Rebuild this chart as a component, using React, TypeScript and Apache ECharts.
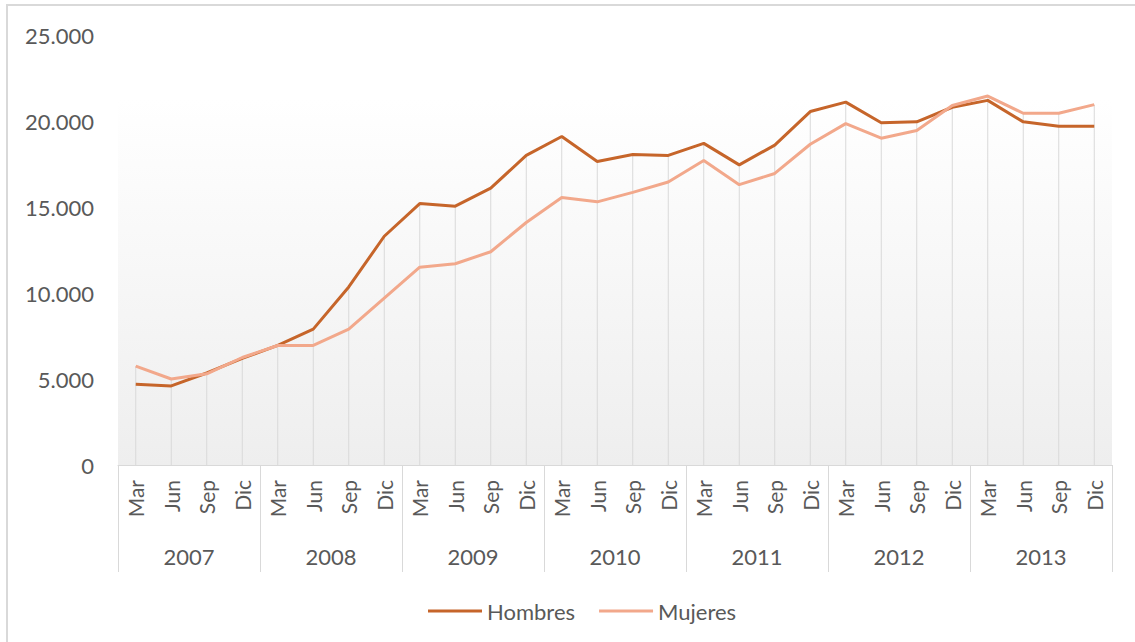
import React, { useEffect, useRef } from "react";
import * as echarts from "echarts";

const quarters = ["Mar", "Jun", "Sep", "Dic"];
const years = ["2007", "2008", "2009", "2010", "2011", "2012", "2013"];
const categories: string[] = years.flatMap((y) => quarters.map((q) => q));

const hombres = [
  4700, 4600, 5350, 6200, 6950, 7900, 10350, 13300,
  15200, 15050, 16100, 18000, 19100, 17650, 18050, 18000,
  18700, 17450, 18600, 20550, 21100, 19900, 19950, 20800,
  21200, 19950, 19700, 19700,
];
const mujeres = [
  5750, 5000, 5300, 6250, 6950, 6950, 7900, 9700,
  11500, 11700, 12400, 14100, 15550, 15300, 15850, 16450,
  17700, 16300, 16950, 18650, 19850, 19000, 19450, 20900,
  21450, 20450, 20450, 20950,
];
const yTicks = [0, 5000, 10000, 15000, 20000, 25000];

const FONT = "Lato";
const TEXT = "#595959";
const GRID_LINE = "#d9d9d9";

export default function App() {
  const ref = useRef<HTMLDivElement>(null);
  useEffect(() => {
    if (!ref.current) return;
    const chart = echarts.init(ref.current, undefined, { renderer: "svg" });
    const drop = hombres.map((h, i) => Math.max(h, mujeres[i]));
    chart.setOption({
      animation: false,
      backgroundColor: "#ffffff",
      textStyle: { fontFamily: FONT },
      graphic: [
        {
          type: "rect",
          shape: { x: 7, y: 5, width: 1140, height: 650 },
          style: { fill: "none", stroke: "#d9d9d9", lineWidth: 2 },
          silent: true,
        },
      ],
      grid: {
        left: 118,
        right: 23,
        top: 35,
        bottom: 177,
        show: true,
        borderWidth: 0,
        backgroundColor: new echarts.graphic.LinearGradient(0, 0, 0, 1, [
          { offset: 0, color: "#ffffff" },
          { offset: 0.15, color: "#ffffff" },
          { offset: 1, color: "#eeeeee" },
        ]),
      },
      legend: {
        data: ["Hombres", "Mujeres"],
        left: 423,
        top: 595,
        icon: "rect",
        itemWidth: 54,
        itemHeight: 3,
        itemGap: 24,
        textStyle: { color: TEXT, fontSize: 22, fontFamily: FONT },
      },
      xAxis: [
        {
          type: "category",
          data: categories,
          boundaryGap: true,
          axisLine: { show: true, lineStyle: { color: GRID_LINE, width: 1 } },
          axisTick: { show: false },
          axisLabel: {
            rotate: 90,
            interval: 0,
            margin: 15,
            color: TEXT,
            fontSize: 21,
            fontFamily: FONT,
          },
          splitLine: { show: false },
        },
        {
          type: "category",
          data: years,
          position: "bottom",
          boundaryGap: true,
          axisLine: { show: false },
          axisTick: { show: true, length: 107, lineStyle: { color: GRID_LINE, width: 1 } },
          axisLabel: {
            interval: 0,
            margin: 91,
            verticalAlign: "middle",
            color: TEXT,
            fontSize: 22,
            fontFamily: FONT,
          },
          splitLine: { show: false },
        },
      ],
      yAxis: {
        type: "value",
        min: yTicks[0],
        max: yTicks[yTicks.length - 1],
        interval: 5000,
        axisLine: { show: false },
        axisTick: { show: false },
        splitLine: { show: false },
        axisLabel: {
          margin: 24,
          color: TEXT,
          fontSize: 22,
          fontFamily: FONT,
          formatter: (v: number) => String(v).replace(/\B(?=(\d{3})+(?!\d))/g, "."),
        },
      },
      series: [
        {
          name: "drop",
          type: "bar",
          data: drop,
          barWidth: 1,
          itemStyle: { color: GRID_LINE },
          silent: true,
          z: 1,
        },
        {
          name: "Hombres",
          type: "line",
          data: hombres,
          symbol: "none",
          lineStyle: { color: "#c6652a", width: 3 },
          itemStyle: { color: "#c6652a" },
          z: 3,
        },
        {
          name: "Mujeres",
          type: "line",
          data: mujeres,
          symbol: "none",
          lineStyle: { color: "#f2a88b", width: 3 },
          itemStyle: { color: "#f2a88b" },
          z: 4,
        },
      ],
    });
    return () => chart.dispose();
  }, []);
  return (
    <div
      ref={ref}
      style={{ position: "fixed", left: 0, top: 0, width: 1135, height: 642 }}
    />
  );
}
